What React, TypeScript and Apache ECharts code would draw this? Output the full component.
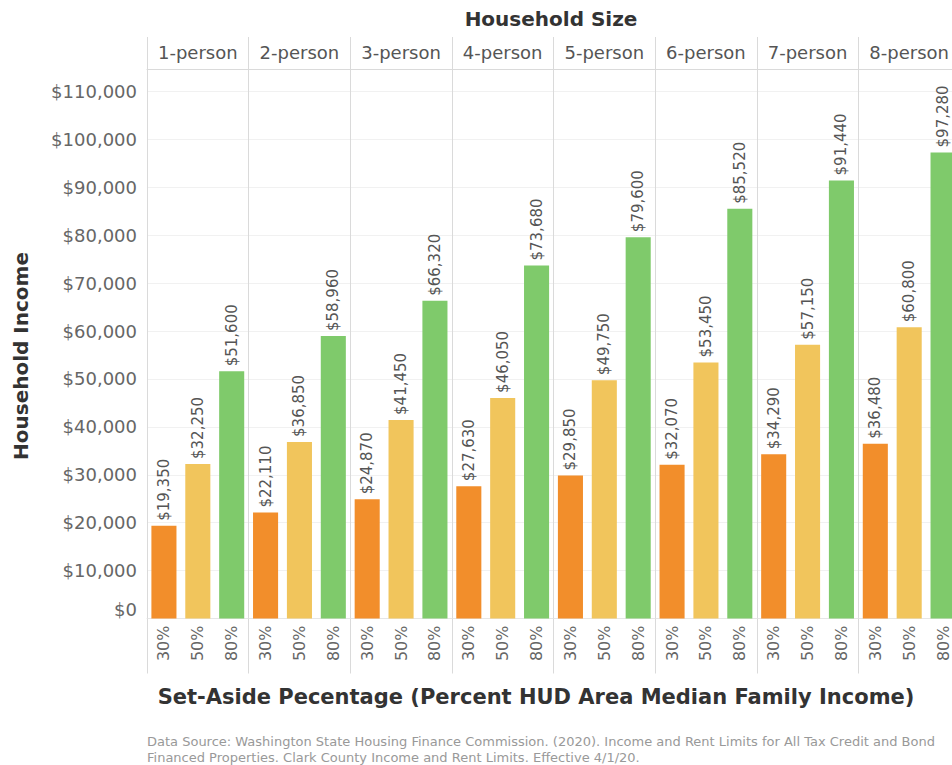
import { useEffect, useRef } from 'react';
import * as echarts from 'echarts';

const householdSizes = ['1-person', '2-person', '3-person', '4-person', '5-person', '6-person', '7-person', '8-person'];
const setAsides = ['30%', '50%', '80%'];
const income30 = [19350, 22110, 24870, 27630, 29850, 32070, 34290, 36480];
const income50 = [32250, 36850, 41450, 46050, 49750, 53450, 57150, 60800];
const income80 = [51600, 58960, 66320, 73680, 79600, 85520, 91440, 97280];
const setAsideColors = ['#F28E2B', '#F1C55C', '#7FCA6B'];
const yMax = 114700;
const yInterval = 10000;

const titleText = 'Household Size';
const xTitle = 'Set-Aside Pecentage (Percent HUD Area Median Family Income)';
const yTitle = 'Household Income';
const sourceText =
  'Data Source: Washington State Housing Finance Commission. (2020). Income and Rent Limits for All Tax Credit and Bond\nFinanced Properties. Clark County Income and Rent Limits. Effective 4/1/20.';

const FONT = '"DejaVu Sans", sans-serif';

export default function App() {
  const ref = useRef<HTMLDivElement>(null);

  useEffect(() => {
    if (!ref.current) return;
    const chart = echarts.init(ref.current, null, { renderer: 'svg' });
    const bySet = [income30, income50, income80];
    const categories: string[] = [];
    const data: any[] = [];
    householdSizes.forEach((size, i) => {
      setAsides.forEach((pct, j) => {
        categories.push(size + '|' + pct);
        data.push({ value: bySet[j][i], itemStyle: { color: setAsideColors[j] } });
      });
    });

    const gridLeft = 147;
    const gridTop = 69;
    const gridHeight = 549.5;
    const gridWidth = 813;
    const lineColor = '#dadada';

    chart.setOption({
      animation: false,
      backgroundColor: '#ffffff',
      textStyle: { fontFamily: FONT },
      grid: { left: gridLeft, width: gridWidth, top: gridTop, height: gridHeight, containLabel: false },
      xAxis: [
        {
          type: 'category',
          data: categories,
          position: 'bottom',
          axisLine: { show: true, lineStyle: { color: '#e6e6e6' } },
          axisTick: { show: false },
          axisLabel: {
            interval: 0,
            rotate: 90,
            margin: 7,
            fontSize: 16,
            color: '#666',
            fontFamily: FONT,
            formatter: (v: string) => v.split('|')[1],
          },
          splitLine: { show: false },
        },
        {
          type: 'category',
          data: householdSizes,
          position: 'top',
          axisLine: { show: true, lineStyle: { color: lineColor } },
          axisTick: { show: true, interval: 0, length: 32, lineStyle: { color: lineColor } },
          axisLabel: { interval: 0, margin: 8, fontSize: 18, color: '#555', fontFamily: FONT },
          splitLine: { show: true, interval: 0, lineStyle: { color: lineColor } },
        },
        {
          type: 'category',
          data: householdSizes,
          position: 'bottom',
          axisLine: { show: false },
          axisTick: { show: true, interval: 0, length: 55, lineStyle: { color: lineColor } },
          axisLabel: { show: false },
          splitLine: { show: false },
        },
      ],
      yAxis: {
        type: 'value',
        min: 0,
        max: yMax,
        interval: yInterval,
        axisLine: { show: false },
        axisTick: { show: false },
        splitLine: { show: true, lineStyle: { color: '#f1f1f1' } },
        axisLabel: {
          margin: 10,
          fontSize: 18,
          color: '#666',
          fontFamily: FONT,
          showMaxLabel: false,
          verticalAlignMinLabel: 'bottom',
          formatter: (v: number) => (v % yInterval === 0 ? '$' + v.toLocaleString('en-US') : ''),
        },
      },
      series: [
        {
          type: 'bar',
          xAxisIndex: 0,
          data,
          barWidth: '74%',
          label: {
            show: true,
            position: 'top',
            rotate: 90,
            align: 'left',
            verticalAlign: 'middle',
            distance: 5,
            fontSize: 15,
            color: '#555',
            fontFamily: FONT,
            formatter: (p: any) => '$' + Number(p.value).toLocaleString('en-US'),
          },
        },
      ],
      graphic: [
        {
          type: 'text',
          x: 551,
          y: 19,
          style: {
            text: titleText,
            align: 'center',
            verticalAlign: 'middle',
            fontSize: 20,
            fontWeight: 'bold',
            fill: '#333',
            fontFamily: FONT,
          },
        },
        {
          type: 'text',
          x: 536,
          y: 697,
          style: {
            text: xTitle,
            align: 'center',
            verticalAlign: 'middle',
            fontSize: 21,
            fontWeight: 'bold',
            fill: '#333',
            fontFamily: FONT,
          },
        },
        {
          type: 'text',
          x: 21,
          y: 356,
          rotation: Math.PI / 2,
          style: {
            text: yTitle,
            align: 'center',
            verticalAlign: 'middle',
            fontSize: 20,
            fontWeight: 'bold',
            fill: '#333',
            fontFamily: FONT,
          },
        },
        {
          type: 'text',
          x: 147,
          y: 733,
          style: {
            text: sourceText,
            align: 'left',
            verticalAlign: 'top',
            fontSize: 13,
            lineHeight: 16,
            fill: '#999',
            fontFamily: FONT,
          },
        },
      ],
    });
    return () => chart.dispose();
  }, []);

  return (
    <div
      style={{
        position: 'fixed',
        left: 0,
        top: 0,
        width: 952,
        height: 765,
        overflow: 'hidden',
        background: '#fff',
      }}
    >
      <div ref={ref} style={{ width: 962, height: 765 }} />
    </div>
  );
}
